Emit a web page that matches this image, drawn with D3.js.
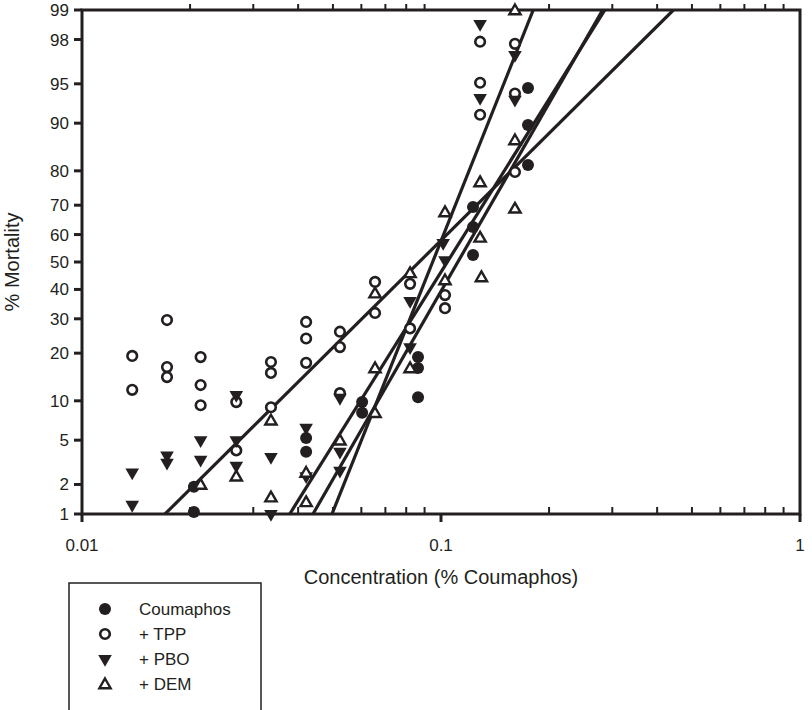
<!DOCTYPE html>
<html lang="en">
<head>
<meta charset="UTF-8">
<title>Probit mortality</title>
<script src="https://d3js.org/d3.v7.min.js"></script>
<style>
  body { margin: 0; background: #fff; }
  svg { font-family: "Liberation Sans", Arial, sans-serif; }
</style>
</head>
<body>
<svg width="812" height="710"></svg>
<script>
// data: [concentration (% coumaphos), % mortality]
const coumaphos = [[0.0205,1.9],[0.0205,1.05],[0.0421,5.2],[0.0421,4.0],[0.0603,9.8],[0.0603,8.2],
  [0.0863,19],[0.0863,16.4],[0.0863,10.6],[0.1228,69.4],[0.1228,62.7],[0.1228,52.6],
  [0.1747,94.6],[0.1747,89.7],[0.1747,81.5]];
const tpp = [[0.0138,19.3],[0.0138,11.9],[0.01725,29.6],[0.01725,16.6],[0.01725,14.4],
  [0.0214,19],[0.0214,12.8],[0.0214,9.3],[0.0269,9.8],[0.0269,4.1],
  [0.0336,17.8],[0.0336,15.3],[0.0336,9.0],[0.0421,29],[0.0421,24],[0.0421,17.6],
  [0.0523,26],[0.0523,21.6],[0.0523,11.3],[0.0655,42.7],[0.0655,31.9],[0.082,42],[0.082,27],
  [0.1026,38],[0.1026,33.5],[0.1285,97.9],[0.1285,95.1],[0.1285,91.3],[0.1607,97.8],[0.1607,94],[0.1607,79.7]];
const pbo = [[0.0138,2.6],[0.0138,1.25],[0.01725,3.7],[0.01725,3.2],[0.0214,5.0],[0.0214,3.4],
  [0.0269,11],[0.0269,5.0],[0.0269,3.0],[0.0336,3.6],[0.0336,1.0],[0.0421,6.3],[0.0421,2.4],
  [0.0523,10.5],[0.0523,4.0],[0.0523,2.7],[0.082,36],[0.082,21.6],[0.1026,50.7],[0.1014,57],
  [0.1285,98.6],[0.1285,93.5],[0.1607,97.2],[0.1607,93.3]];
const dem = [[0.0214,2.0],[0.0269,2.4],[0.0336,7.2],[0.0336,1.5],[0.0421,2.6],[0.0421,1.34],
  [0.0523,5.0],[0.0655,38.7],[0.0655,16.4],[0.0655,8.2],[0.082,46],[0.082,16.4],
  [0.1026,67.8],[0.1026,43.4],[0.1285,77],[0.1285,59],[0.1296,44.5],[0.1607,99],[0.1607,87],[0.1607,69]];
// fitted probit lines: concentration at 1% and 99% mortality
const fitLines = {
  coumaphos: [0.0379, 0.286],
  tpp: [0.01703, 0.444],
  pbo: [0.0497, 0.1807],
  dem: [0.0440, 0.282]
};
const yTicks = [1, 2, 5, 10, 20, 30, 40, 50, 60, 70, 80, 90, 95, 98, 99];
const xTicks = [0.01, 0.1, 1];
const legendLabels = ["Coumaphos", "+ TPP", "+ PBO", "+ DEM"];

// inverse normal CDF (Acklam)
function probit(p) {
  const a = [-39.69683028665376, 220.9460984245205, -275.9285104469687, 138.357751867269, -30.66479806614716, 2.506628277459239];
  const b = [-54.47609879822406, 161.5858368580409, -155.6989798598866, 66.80131188771972, -13.28068155288572];
  const c = [-0.007784894002430293, -0.3223964580411365, -2.400758277161838, -2.549732539343734, 4.374664141464968, 2.938163982698783];
  const d = [0.007784695709041462, 0.3224671290700398, 2.445134137142996, 3.754408661907416];
  const pl = 0.02425;
  let q, r;
  if (p < pl) { q = Math.sqrt(-2 * Math.log(p));
    return (((((c[0]*q+c[1])*q+c[2])*q+c[3])*q+c[4])*q+c[5]) / ((((d[0]*q+d[1])*q+d[2])*q+d[3])*q+1); }
  if (p > 1 - pl) { q = Math.sqrt(-2 * Math.log(1 - p));
    return -(((((c[0]*q+c[1])*q+c[2])*q+c[3])*q+c[4])*q+c[5]) / ((((d[0]*q+d[1])*q+d[2])*q+d[3])*q+1); }
  q = p - 0.5; r = q * q;
  return (((((a[0]*r+a[1])*r+a[2])*r+a[3])*r+a[4])*r+a[5])*q / (((((b[0]*r+b[1])*r+b[2])*r+b[3])*r+b[4])*r+1);
}

const pLeft = 82, pRight = 800, pTop = 10, pBottom = 514;
const x = d3.scaleLog().domain([0.01, 1]).range([pLeft, pRight]);
const zScale = d3.scaleLinear().domain([probit(0.01), probit(0.99)]).range([pBottom, pTop]);
const y = v => zScale(probit(v / 100));

const svg = d3.select("svg");
const ink = "#231f20";

svg.append("clipPath").attr("id", "plot-clip").append("rect")
  .attr("x", pLeft).attr("y", pTop).attr("width", pRight - pLeft).attr("height", pBottom - pTop);

// fitted lines (straight on log-probit axes)
const lineG = svg.append("g").attr("clip-path", "url(#plot-clip)");
Object.values(fitLines).forEach(([c1, c99]) => {
  lineG.append("line")
    .attr("x1", x(c1)).attr("y1", y(1))
    .attr("x2", x(c99)).attr("y2", y(99))
    .attr("stroke", ink).attr("stroke-width", 3.2);
});

// frame
svg.append("rect").attr("x", pLeft).attr("y", pTop).attr("width", pRight - pLeft).attr("height", pBottom - pTop)
  .attr("fill", "none").attr("stroke", ink).attr("stroke-width", 3);

// y ticks
yTicks.forEach(t => {
  svg.append("line").attr("x1", pLeft - 8).attr("x2", pLeft).attr("y1", y(t)).attr("y2", y(t))
    .attr("stroke", ink).attr("stroke-width", 3);
  svg.append("text").attr("x", pLeft - 13).attr("y", y(t) + 6).attr("text-anchor", "end")
    .attr("font-size", 17).attr("fill", ink).text(t);
});

// x ticks
const minors = [];
[0.01, 0.1].forEach(dec => { for (let k = 2; k <= 9; k++) minors.push(dec * k); });
minors.forEach(t => {
  svg.append("line").attr("x1", x(t)).attr("x2", x(t)).attr("y1", pBottom).attr("y2", pBottom - 7)
    .attr("stroke", ink).attr("stroke-width", 2);
  svg.append("line").attr("x1", x(t)).attr("x2", x(t)).attr("y1", pTop).attr("y2", pTop - 6)
    .attr("stroke", ink).attr("stroke-width", 2);
});
xTicks.forEach(t => {
  svg.append("line").attr("x1", x(t)).attr("x2", x(t)).attr("y1", pBottom).attr("y2", pBottom + 8)
    .attr("stroke", ink).attr("stroke-width", 3);
  svg.append("text").attr("x", x(t)).attr("y", pBottom + 37).attr("text-anchor", "middle")
    .attr("font-size", 17).attr("fill", ink).text(t);
});

// axis titles
svg.append("text").attr("x", 441).attr("y", 584).attr("text-anchor", "middle")
  .attr("font-size", 20).attr("fill", ink).text("Concentration (% Coumaphos)");
svg.append("text").attr("transform", `translate(19,${(pTop + pBottom) / 2}) rotate(-90)`)
  .attr("text-anchor", "middle").attr("font-size", 20).attr("fill", ink).text("% Mortality");

// markers
function drawMark(g, kind) {
  if (kind === 0) g.append("circle").attr("r", 6).attr("fill", ink);
  if (kind === 1) g.append("circle").attr("r", 4.8).attr("fill", "#fff").attr("stroke", ink).attr("stroke-width", 2.6);
  if (kind === 2) g.append("path").attr("d", d3.symbol().type(d3.symbolTriangle).size(80)).attr("transform", "rotate(180)").attr("fill", ink);
  if (kind === 3) g.append("path").attr("d", d3.symbol().type(d3.symbolTriangle).size(55)).attr("transform", "translate(0,1)")
    .attr("fill", "#fff").attr("stroke", ink).attr("stroke-width", 2.4);
}
[coumaphos, tpp, pbo, dem].forEach((series, k) => {
  series.forEach(([c, m]) => {
    drawMark(svg.append("g").attr("transform", `translate(${x(c)},${y(m)})`), k);
  });
});

// legend
svg.append("rect").attr("x", 69).attr("y", 583).attr("width", 192).attr("height", 135)
  .attr("fill", "none").attr("stroke", ink).attr("stroke-width", 1.5);
legendLabels.forEach((lab, i) => {
  const ly = 609 + i * 25;
  drawMark(svg.append("g").attr("transform", `translate(105,${ly})`), i);
  svg.append("text").attr("x", 139).attr("y", ly + 6).attr("font-size", 17).attr("fill", ink).text(lab);
});
</script>
</body>
</html>
